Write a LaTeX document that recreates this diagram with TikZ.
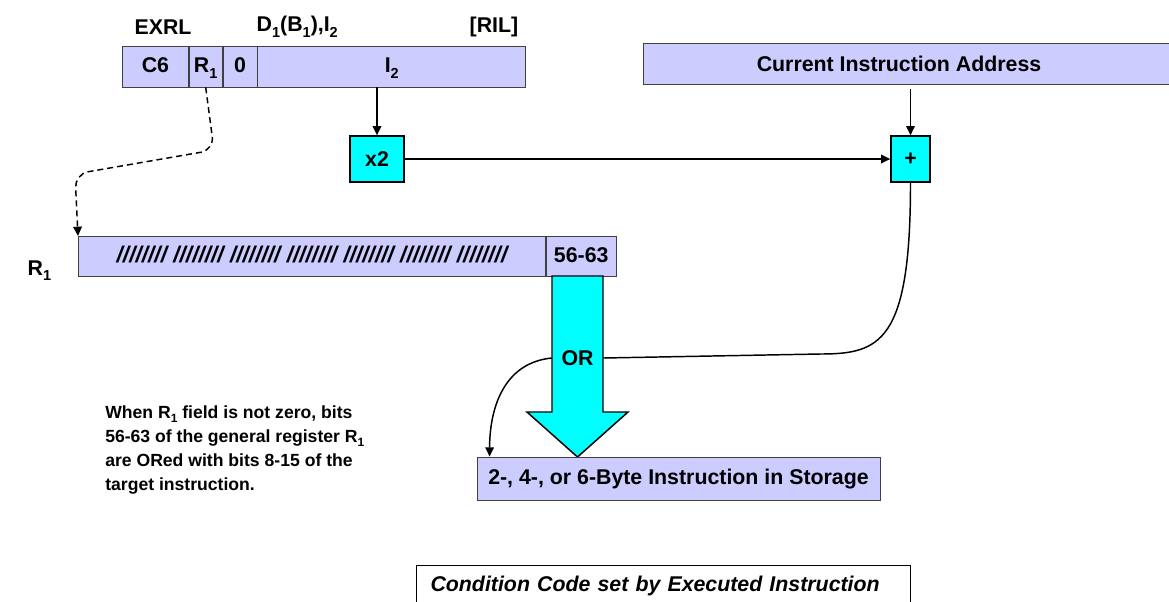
\documentclass[tikz,border=0pt]{standalone}
\usepackage{fontspec}
\usepackage{graphicx}
\setmainfont{Liberation Sans}
\usetikzlibrary{positioning,arrows.meta}
\definecolor{lavender}{HTML}{CCCCFF}
\definecolor{aqua}{HTML}{00FFFF}
\newcommand{\px}{0.75pt}
\newcommand{\lbl}{\fontsize{16}{19}\selectfont\bfseries}
\newcommand{\note}{\fontsize{13.2}{18}\selectfont\bfseries}
\newcommand{\sub}[1]{\raisebox{-0.28em}{\scalebox{0.68}{#1}}}
\tikzset{
  field/.style={draw=black!75, fill=lavender, line width=0.6pt, inner sep=0pt,
    minimum height=41*\px, text height=11.5pt, text depth=2.5pt, font=\lbl},
  opbox/.style={draw=black, fill=aqua, line width=1pt, inner sep=0pt, font=\lbl},
  arr/.style={-{Triangle[length=7pt,width=6.5pt]}, line width=1.1pt},
}
\begin{document}
\begin{tikzpicture}[x=\px, y=-\px]
		\useasboundingbox (0,0) rectangle (1169,601);
		% instruction format
		\node[font=\lbl] (mnem) at (163,27) {EXRL};
		\node[font=\lbl, anchor=west] (opnds) at (252,27) {D\sub{1}(B\sub{1}),I\sub{2}};
		\node[font=\lbl, anchor=east] (fmt) at (523,27) {[RIL]};
		\node[field, minimum width=66*\px, anchor=west] (opc) at (122,66.5) {C6};
		\node[field, minimum width=33*\px, right=0pt of opc] (rone) {R\sub{1}};
		\node[field, minimum width=34*\px, right=0pt of rone] (zero) {0};
		\node[field, minimum width=268*\px, right=0pt of zero] (itwo) {I\sub{2}};
		% address
		\node[field, minimum width=545*\px, anchor=west] (cia) at (643,64) {};
		\node[font=\lbl] (ciatext) at (899,64) {Current Instruction Address};
		\node[opbox, minimum width=54*\px, minimum height=46*\px] (dbl) at (377,159) {x2};
		\node[opbox, minimum width=39*\px, minimum height=46*\px] (plus) at (910.5,159) {+};
		% register
		\node[font=\lbl, anchor=base west] (rlab) at (23,275) {R\sub{1}};
		\node[field, minimum width=467*\px, minimum height=40*\px, anchor=north west] (reg) at (78,236)
		{\fontsize{17}{19}\selectfont\itshape //////// //////// //////// //////// //////// //////// ////////};
		\node[field, minimum width=70*\px, minimum height=40*\px, right=0pt of reg] (low) {56-63};
		% or arrow
		\draw[fill=aqua, line width=1.1pt] (552,276) -- (552,412) -- (527,412) -- (577.5,457)
		-- (628,412) -- (603,412) -- (603,276) -- cycle;
		\node[font=\lbl, minimum width=51*\px, inner sep=0pt] (orop) at (577.5,358) {OR};
		\node[field, minimum width=403*\px, minimum height=43*\px] (store) at (678.5,478.5)
		{2-, 4-, or 6-Byte Instruction in Storage};
		% connectors
		\draw[arr] (dbl.north |- itwo.south) -- (dbl.north);
		\draw[arr] (dbl.east) -- (plus.west);
		\draw[arr, shorten <=4*\px] (plus.north |- cia.south) -- (plus.north);
		\draw[arr, dash pattern=on 4.5pt off 3pt, rounded corners=10pt]
		(rone.south) -- (214,150) -- (75,174) -- (reg.north west);
		\draw[line width=1.1pt] (plus.south) .. controls +(0,160) and +(60,0) .. (820,354) -- (orop.east);
		\draw[arr] (orop.west) .. controls +(-50,5) and +(0,-45) .. ([xshift=13*\px]store.north west);
		% text
		\node[font=\note, anchor=north west, align=left, inner sep=0pt] (desc) at (105,405)
		{When R\sub{1} field is not zero, bits\\
		56-63 of the general register R\sub{1}\\
		are ORed with bits 8-15 of the\\
		target instruction.};
		\node[draw=black, fill=white, line width=0.75pt, anchor=north west, minimum width=494*\px,
		minimum height=40*\px, text width=466*\px, inner xsep=14*\px, align=left, font=\lbl\itshape]
		(cond) at (416,565) {Condition Code set by Executed Instruction};
\end{tikzpicture}
\end{document}
